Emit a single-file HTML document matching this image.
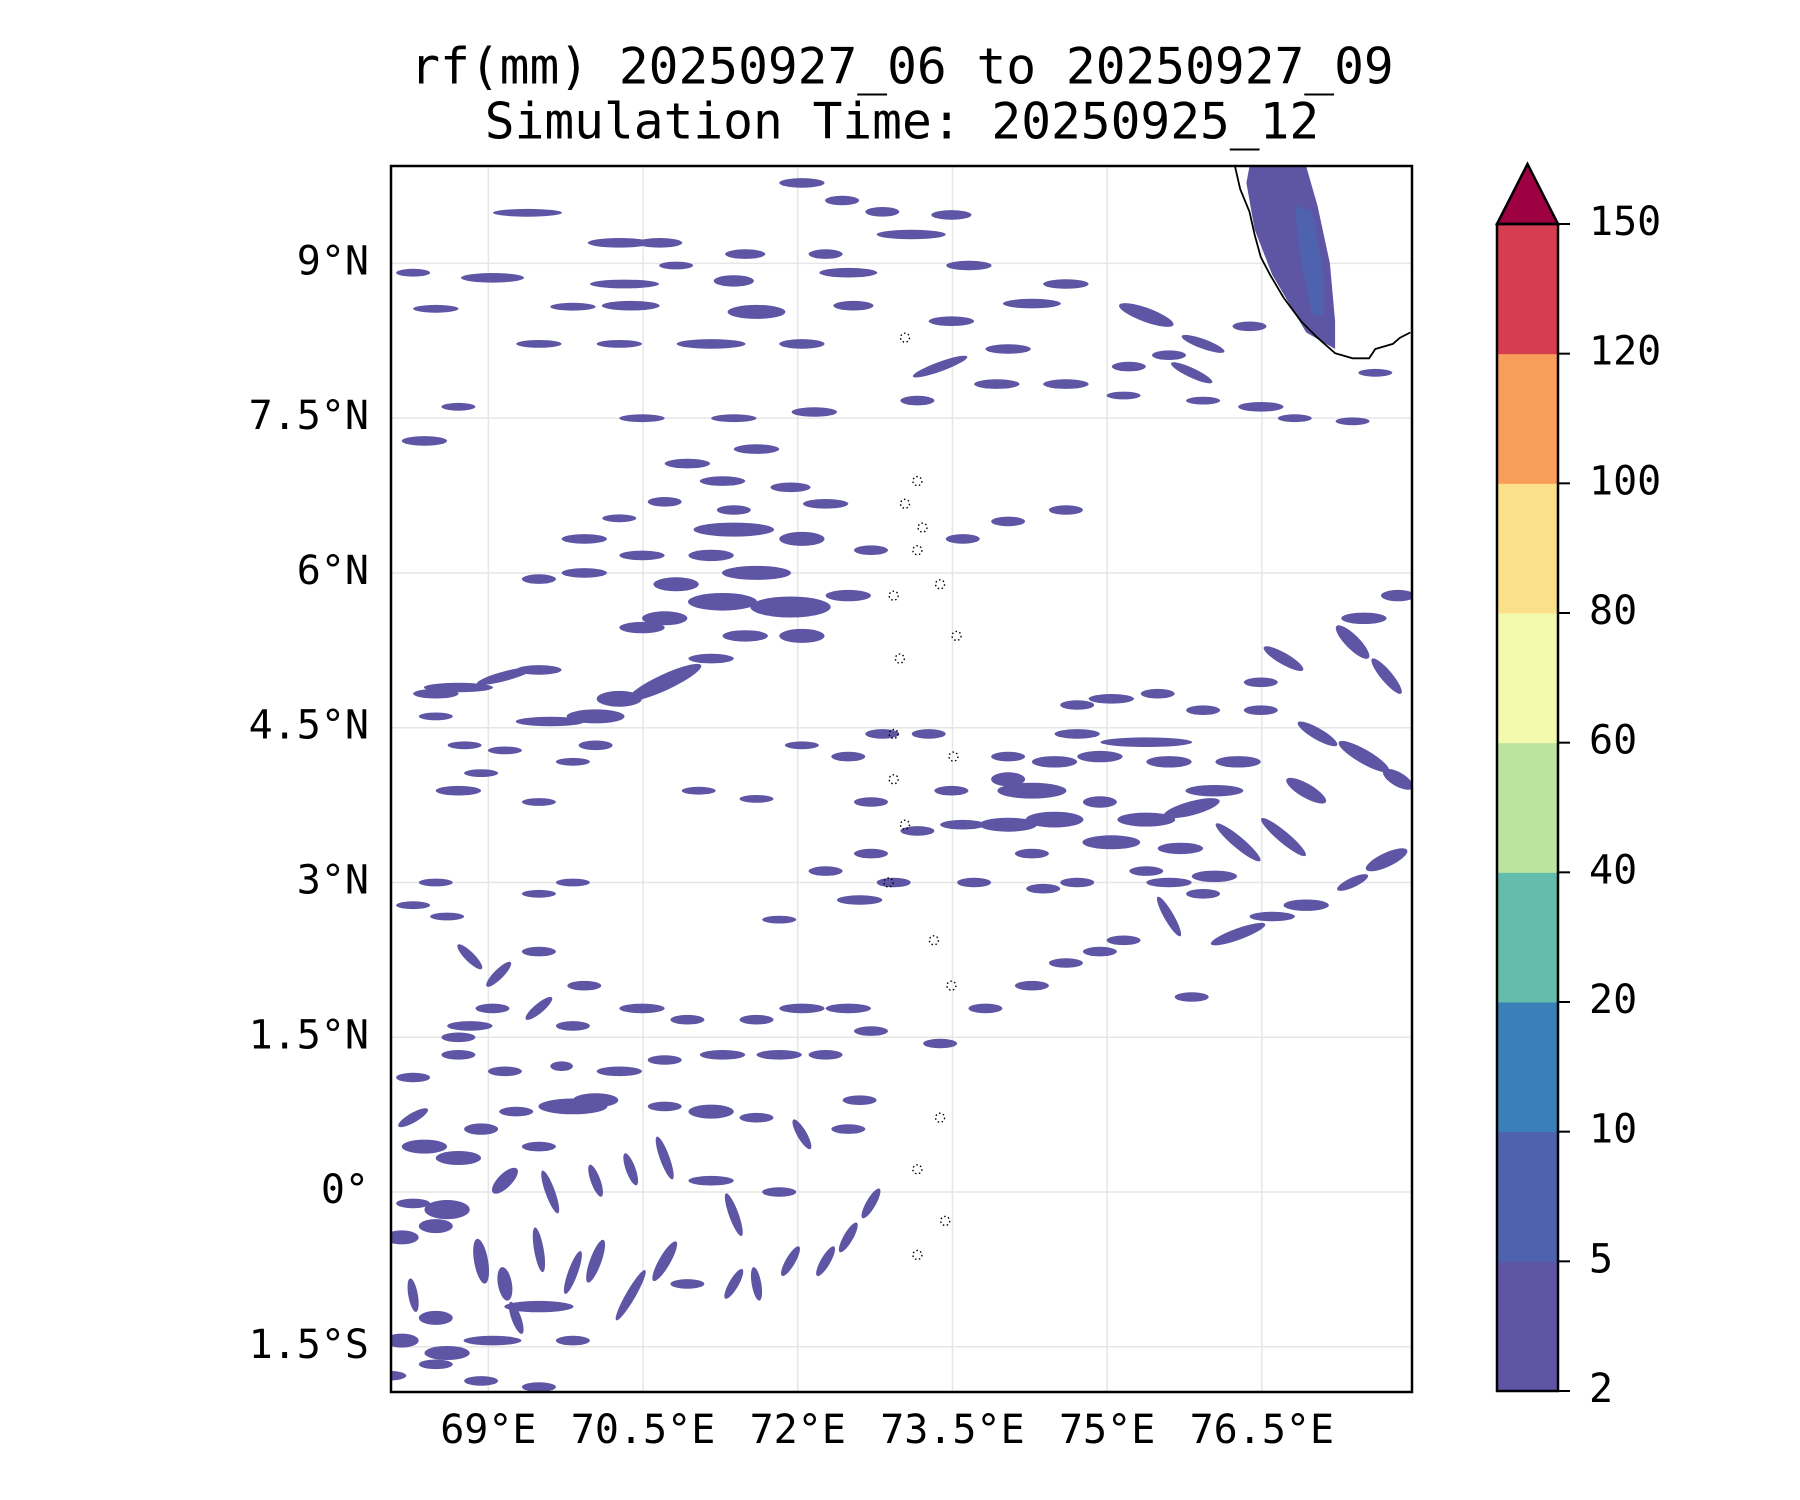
<!DOCTYPE html>
<html><head><meta charset="utf-8"><style>
html,body{margin:0;padding:0;background:#fff}
svg{display:block}
text{font-family:"DejaVu Sans Mono","Liberation Mono",monospace;fill:#000}
</style></head><body>
<svg id="chart" width="1800" height="1500" viewBox="0 0 1800 1500">
<defs><clipPath id="mapclip"><rect x="391" y="166" width="1021" height="1226"/></clipPath></defs>
<text x="902" y="70" font-size="49.5" text-anchor="middle" dominant-baseline="middle">rf(mm) 20250927_06 to 20250927_09</text>
<text x="902" y="125" font-size="49.5" text-anchor="middle" dominant-baseline="middle">Simulation Time: 20250925_12</text>
<rect x="391" y="166" width="1021" height="1226" fill="#fff"/>
<g id="grid"></g>
<g id="rain" clip-path="url(#mapclip)"></g>
<g id="coast" clip-path="url(#mapclip)"></g>
<rect x="391" y="166" width="1021" height="1226" fill="none" stroke="#000" stroke-width="2.5"/>
<g id="axes"></g>
<g id="cbar"></g>
</svg>
<script>
const latTicks=[9,7.5,6,4.5,3,1.5,0,-1.5];
const latLabels=["9°N","7.5°N","6°N","4.5°N","3°N","1.5°N","0°","1.5°S"];
const lonTicks=[69,70.5,72,73.5,75,76.5];
const lonLabels=["69°E","70.5°E","72°E","73.5°E","75°E","76.5°E"];
const levels=[2,5,10,20,40,60,80,100,120,150];
const levelColors=["#5e55a5","#4e62ad","#3a7fb8","#63bdaa","#bce4a0","#f3faad","#fbe08b","#f99d5a","#d53e50"];
const extendColor="#9e0142";

const blobLon=[69.38,70.27,70.66,69.04,70.32,68.27,70.82,71.49,72.27,72.49,73.66,73.1,73.49,72.82,72.43,72.04,70.38,69.82,71.6,71.38,72.54,74.6,75.38,75.93,76.38,75.6,75.82,75.21,74.27,68.49,69.49,70.27,71.16,72.04,73.49,74.04,73.38,73.93,74.6,73.16,76.49,76.82,77.38,77.6,75.93,75.16,68.38,68.71,70.49,71.38,72.16,71.6,70.93,71.27,71.93,72.27,70.71,71.38,70.27,69.93,71.38,72.04,71.16,70.49,69.93,69.49,70.82,71.6,71.27,71.93,70.71,70.49,71.49,72.04,72.49,72.71,73.6,74.04,74.6,71.16,70.71,70.27,68.71,68.49,69.16,69.49,69.6,70.04,70.04,68.49,68.77,69.16,68.71,68.93,69.49,69.82,71.04,71.6,72.04,72.49,72.82,73.27,72.71,73.16,73.49,73.6,74.04,74.49,74.27,74.04,74.93,75.04,75.38,75.82,76.04,76.27,75.6,74.93,74.49,75.38,74.71,74.04,75.04,75.49,74.71,75.93,76.49,77.04,77.49,77.82,77.38,77.49,77.82,77.71,76.71,76.49,76.93,76.71,76.27,75.71,76.04,75.38,74.38,74.71,73.71,74.27,77.71,77.38,76.93,76.6,76.27,75.6,75.93,75.6,72.6,72.93,72.71,72.27,71.82,68.27,68.49,68.6,69.49,69.82,68.82,69.1,69.49,69.93,69.49,69.04,68.82,68.71,69.82,70.49,70.93,71.6,72.04,72.49,72.71,73.38,73.82,74.27,74.6,74.93,75.16,75.82,69.71,70.27,70.71,71.27,71.82,72.27,69.16,68.71,68.27,68.27,68.38,68.71,68.93,69.27,69.82,70.04,70.71,71.16,71.6,72.04,72.49,72.6,68.27,68.6,68.16,68.49,69.16,69.49,69.6,70.04,70.38,70.71,71.16,71.38,71.82,68.27,68.49,68.6,68.16,68.93,69.16,69.49,69.82,70.04,70.38,70.71,69.49,69.04,69.82,70.93,71.38,71.6,71.93,72.27,72.49,72.71,68.04,68.93,69.49,68.49,69.27];
const blobLat=[9.49,9.2,9.2,8.86,8.8,8.91,8.98,9.09,9.09,8.91,8.98,9.28,9.47,9.5,9.61,9.78,8.59,8.58,8.53,8.83,8.59,8.8,8.5,8.22,8.39,8.11,7.94,8,8.61,8.56,8.22,8.22,8.22,8.22,8.44,8.17,8,7.83,7.83,7.67,7.61,7.5,7.47,7.94,7.67,7.72,7.28,7.61,7.5,7.5,7.56,7.2,7.06,6.89,6.83,6.67,6.69,6.61,6.53,6.33,6.42,6.33,6.17,6.17,6,5.94,5.89,6,5.72,5.67,5.56,5.47,5.39,5.39,5.78,6.22,6.33,6.5,6.61,5.17,4.94,4.78,4.89,4.83,5,5.06,4.56,4.61,4.33,4.61,4.33,4.28,3.89,4.06,3.78,4.17,3.89,3.81,4.33,4.22,4.44,4.44,3.78,3.5,3.89,3.56,3.56,3.61,3.89,4,3.78,3.39,3.61,3.72,3.89,4.17,4.17,4.22,4.17,4.36,4.44,4.22,4.78,4.83,4.72,4.67,4.67,4.44,4.22,4,5.33,5.56,5.78,5,5.17,4.94,3.89,3.44,3.39,3.33,3.06,3.11,2.94,3,3,3.28,3.22,3,2.78,2.67,2.5,2.67,2.89,3,2.83,3,3.28,3.11,2.64,2.78,3,2.67,2.89,3,2.28,2.11,2.33,2,1.78,1.78,1.61,1.5,1.61,1.78,1.67,1.67,1.78,1.78,1.56,1.44,1.78,2,2.22,2.33,2.44,1.89,1.22,1.17,1.28,1.33,1.33,1.33,1.17,1.33,1.11,0.72,0.44,0.33,0.61,0.78,0.83,0.89,0.83,0.78,0.72,0.56,0.61,0.89,-0.11,-0.17,-0.44,-0.33,0.11,0.44,0,0.11,0.22,0.33,0.11,-0.22,0,-1,-1.22,-1.56,-1.44,-0.67,-0.89,-0.56,-0.78,-0.67,-1,-0.67,-1.11,-1.44,-1.44,-0.89,-0.89,-0.89,-0.67,-0.67,-0.44,-0.11,-1.78,-1.83,-1.89,-1.67,-1.22];
const blobLen=[.67,.61,.44,.61,.67,.33,.33,.39,.33,.56,.44,.67,.39,.33,.33,.44,.56,.44,.56,.39,.39,.44,.56,.44,.33,.33,.44,.33,.56,.44,.44,.44,.67,.44,.44,.44,.56,.44,.44,.33,.44,.33,.33,.33,.33,.33,.44,.33,.44,.44,.44,.44,.44,.44,.39,.44,.33,.33,.33,.44,.78,.44,.44,.44,.44,.33,.44,.67,.67,.78,.44,.44,.44,.44,.44,.33,.33,.33,.33,.44,.78,.44,.67,.44,.56,.44,.67,.56,.33,.33,.33,.33,.44,.33,.33,.33,.33,.33,.33,.33,.33,.33,.33,.33,.33,.44,.56,.56,.67,.33,.33,.56,.56,.56,.56,.44,.44,.44,.44,.89,.44,.33,.44,.33,.33,.33,.33,.44,.56,.33,.44,.44,.33,.44,.44,.33,.44,.56,.56,.44,.44,.33,.33,.33,.33,.33,.44,.33,.44,.44,.56,.44,.33,.44,.44,.33,.33,.33,.33,.33,.33,.33,.33,.33,.33,.33,.33,.33,.33,.33,.44,.33,.33,.44,.33,.33,.44,.44,.33,.33,.33,.33,.33,.33,.33,.33,.22,.44,.33,.44,.44,.33,.33,.33,.33,.33,.44,.44,.33,.33,.67,.44,.33,.44,.33,.33,.33,.33,.33,.44,.33,.33,.33,.33,.44,.33,.33,.44,.44,.44,.33,.33,.33,.44,.33,.44,.33,.44,.44,.44,.56,.44,.67,.56,.33,.33,.33,.33,.33,.33,.33,.33,.33,.33,.33,.33,.33,.44,.44];
const blobWid=[.09,.11,.11,.11,.1,.09,.09,.11,.11,.11,.11,.11,.11,.11,.11,.11,.11,.09,.16,.13,.11,.11,.16,.11,.11,.11,.11,.11,.11,.09,.09,.09,.11,.11,.11,.11,.11,.11,.11,.11,.11,.09,.09,.09,.09,.09,.11,.09,.09,.09,.11,.11,.11,.11,.11,.11,.11,.11,.09,.11,.16,.16,.13,.11,.11,.11,.16,.16,.2,.24,.16,.13,.13,.16,.13,.11,.11,.11,.11,.11,.18,.18,.11,.11,.11,.11,.11,.16,.11,.09,.09,.09,.11,.09,.09,.09,.09,.09,.09,.11,.11,.11,.11,.11,.11,.11,.16,.18,.18,.16,.13,.16,.16,.16,.13,.13,.13,.13,.13,.11,.11,.11,.11,.11,.11,.11,.11,.13,.16,.16,.16,.13,.13,.13,.13,.11,.16,.13,.13,.13,.13,.11,.11,.11,.11,.11,.16,.11,.13,.11,.13,.11,.11,.11,.11,.11,.11,.11,.09,.09,.09,.09,.09,.09,.11,.11,.11,.11,.11,.11,.11,.11,.11,.11,.11,.11,.11,.11,.11,.11,.11,.11,.11,.11,.11,.11,.11,.11,.11,.11,.11,.11,.11,.11,.11,.11,.16,.16,.13,.11,.18,.16,.11,.16,.11,.11,.11,.11,.11,.22,.16,.16,.16,.11,.11,.11,.11,.11,.11,.11,.11,.11,.16,.16,.16,.16,.16,.11,.11,.13,.11,.13,.13,.11,.11,.11,.11,.11,.11,.11,.11,.11,.11,.11,.11,.11,.11,.11,.11];
const blobAng=[0,0,0,0,0,0,0,0,0,0,0,0,0,0,0,0,0,0,0,0,0,0,20,20,0,0,25,0,0,0,0,0,0,0,0,0,-20,0,0,0,0,0,0,0,0,0,0,0,0,0,0,0,0,0,0,0,0,0,0,0,0,0,0,0,0,0,0,0,0,0,0,0,0,0,0,0,0,0,0,0,-25,0,0,0,-15,0,0,0,0,0,0,0,0,0,0,0,0,0,0,0,0,0,0,0,0,0,0,0,0,0,0,0,0,-15,0,0,0,0,0,0,0,0,0,0,0,0,0,30,30,30,45,0,0,50,30,0,30,40,40,0,0,0,0,0,0,0,-25,-25,0,0,-20,60,0,0,0,0,0,0,0,0,0,0,0,0,45,-45,0,0,-40,0,0,0,0,0,0,0,0,0,0,0,0,0,0,0,0,0,0,0,0,0,0,0,0,0,0,-30,0,0,0,0,0,0,0,0,0,60,0,0,0,0,0,0,-45,0,70,70,70,70,0,70,0,80,0,0,0,80,80,80,-70,-70,-60,-60,0,0,0,0,-60,80,-60,-60,-60,-60,0,0,0,0,70];

const keralaRainLon=[76.38,76.93,77.04,77.16,77.21,77.21,76.93,76.6,76.43,76.35];
const keralaRainLat=[9.94,9.94,9.56,9.0,8.44,8.17,8.33,8.89,9.33,9.78];
const keralaCoreLon=[76.82,76.99,77.1,77.1,76.99,76.88];
const keralaCoreLat=[9.56,9.5,8.9,8.5,8.5,9.0];
const coastLon=[76.24,76.29,76.38,76.43,76.49,76.58,76.71,76.88,77.04,77.21,77.38,77.54,77.6,77.77,77.84,77.94];
const coastLat=[9.94,9.72,9.5,9.28,9.06,8.89,8.67,8.44,8.28,8.13,8.08,8.08,8.17,8.22,8.28,8.33];
const atollLon=[73.04,73.16,73.04,73.21,73.16,73.38,72.93,73.54,72.99,72.93,73.51,72.93,73.04,72.88,73.32,73.49,73.38,73.16,73.43,73.16];
const atollLat=[8.28,6.89,6.67,6.44,6.22,5.89,5.78,5.39,5.17,4.44,4.22,4.0,3.56,3.0,2.44,2.0,0.72,0.22,-0.28,-0.61];

const NS="http://www.w3.org/2000/svg";
const X0=391,X1=1412,Y0=166,Y1=1392,LON0=68.056,LON1=77.956,LAT0=-1.938,LAT1=9.944;
const xS=lon=>X0+(lon-LON0)/(LON1-LON0)*(X1-X0);
const yS=lat=>Y0+(LAT1-lat)/(LAT1-LAT0)*(Y1-Y0);
const pxDeg=(X1-X0)/(LON1-LON0);
function mk(tag,attrs,parent){const e=document.createElementNS(NS,tag);for(const k in attrs)e.setAttribute(k,attrs[k]);parent.appendChild(e);return e;}
const grid=document.getElementById('grid'),rain=document.getElementById('rain'),coast=document.getElementById('coast'),axes=document.getElementById('axes'),cbar=document.getElementById('cbar');

latTicks.forEach((v,i)=>{
  const l=mk('line',{x1:X0,x2:X1,y1:yS(v),y2:yS(v),stroke:'#e6e6e6','stroke-width':1.5},grid);
  
  
  const t=mk('text',{x:369,y:yS(v),'font-size':40,'text-anchor':'end','dominant-baseline':'middle'},axes);
  t.textContent=latLabels[i];
  
  
});
lonTicks.forEach((v,i)=>{
  const l=mk('line',{y1:Y0,y2:Y1,x1:xS(v),x2:xS(v),stroke:'#e6e6e6','stroke-width':1.5},grid);
  
  
  const t=mk('text',{x:xS(v),y:1432,'font-size':40,'text-anchor':'middle','dominant-baseline':'middle'},axes);
  t.textContent=lonLabels[i];
  
  
});

function poly(lons,lats){return lons.map((v,i)=>xS(v).toFixed(1)+','+yS(lats[i]).toFixed(1)).join(' ');}
const kr=mk('polygon',{points:poly(keralaRainLon,keralaRainLat),fill:levelColors[0]},rain);


const kc=mk('polygon',{points:poly(keralaCoreLon,keralaCoreLat),fill:levelColors[1]},rain);



blobLon.forEach((lon,i)=>{
  const cx=xS(lon),cy=yS(blobLat[i]);
  const e=mk('ellipse',{cx:cx.toFixed(1),cy:cy.toFixed(1),rx:(blobLen[i]*pxDeg/2).toFixed(1),ry:(blobWid[i]*0.85*pxDeg/2).toFixed(1),fill:levelColors[0],transform:`rotate(${blobAng[i]} ${cx.toFixed(1)} ${cy.toFixed(1)})`},rain);
  
  
});

const cl=mk('polyline',{points:poly(coastLon,coastLat),fill:'none',stroke:'#000','stroke-width':1.8},coast);


atollLon.forEach((lon,i)=>{
  const c=mk('circle',{cx:xS(lon),cy:yS(atollLat[i]),r:4.5,fill:'none',stroke:'#000','stroke-width':1.4,'stroke-dasharray':'1.5 2.5'},coast);
  
  
});

// colorbar
const CX=1497,CW=61,CB=1391,CT=224,TIP=164;
const bandH=(CB-CT)/(levels.length-1);
levelColors.forEach((c,i)=>{
  const r=mk('rect',{x:CX,y:CB-(i+1)*bandH,width:CW,height:bandH+0.5,fill:c},cbar);
  
  
});
const tri=mk('polygon',{points:`${CX},${CT} ${CX+CW/2},${TIP} ${CX+CW},${CT}`,fill:extendColor,stroke:'#000','stroke-width':2.5,'stroke-linejoin':'miter'},cbar);


const fr=mk('rect',{x:CX,y:CT,width:CW,height:CB-CT,fill:'none',stroke:'#000','stroke-width':2.5},cbar);


levels.forEach((v,i)=>{
  const y=CB-i*bandH;
  const tk=mk('line',{x1:CX+CW,x2:CX+CW+12,y1:y,y2:y,stroke:'#000','stroke-width':2},cbar);
  
  
  const t=mk('text',{x:1589,y:y,'font-size':40,'dominant-baseline':'middle'},cbar);
  t.textContent=v;
  
  
});
</script>
</body></html>
